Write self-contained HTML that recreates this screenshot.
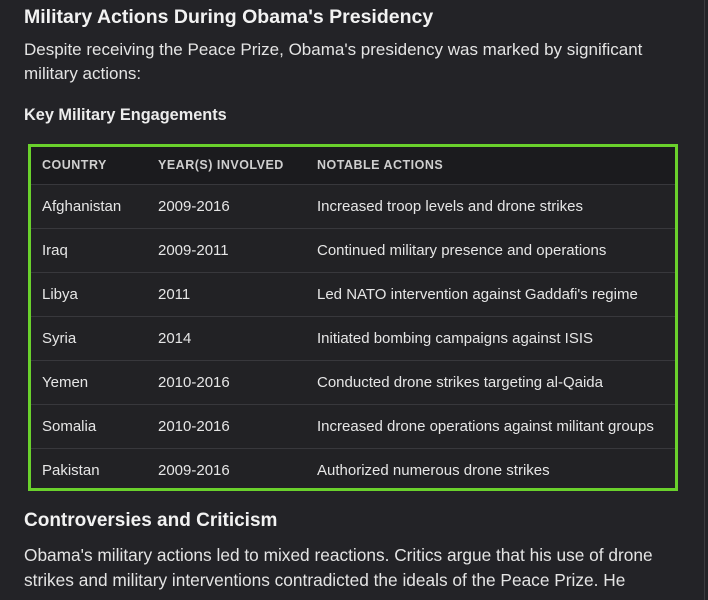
<!DOCTYPE html>
<html><head><style>
body{margin:0;width:708px;height:600px;background:#232327;color:#ececec;font-family:"Liberation Sans",sans-serif;overflow:hidden;position:relative}
.t{position:absolute;left:24px;white-space:nowrap}
h1{position:absolute;left:24px;top:6px;margin:0;font-size:19.5px;font-weight:bold;color:#f2f2f2}
.p{font-size:17px;color:#e4e4e4}
.box{position:absolute;left:28px;top:144px;width:644px;height:341px;border:3px solid #6ad12c;background:#222225}
.row{position:absolute;left:0;width:644px;height:44px;border-top:1px solid #38383c;font-size:15px;color:#e6e6e6}
.row span{position:absolute;top:13px;white-space:nowrap}
.hd{background:#1b1b1e;border-top:none;height:37px;font-size:12.5px;font-weight:bold;color:#cfcfcf;letter-spacing:0.5px}
.hd span{top:11px}
.c1{left:11px}.c2{left:127px}.c3{left:286px}
.edge{position:absolute;right:3px;top:0;width:1px;height:600px;background:#3a3a3e}
</style></head><body>
<div class="edge"></div>
<h1>Military Actions During Obama's Presidency</h1>
<div class="t p" style="top:40px">Despite receiving the Peace Prize, Obama's presidency was marked by significant</div>
<div class="t p" style="top:64px">military actions:</div>
<div class="t" style="top:106px;font-size:16.3px;font-weight:bold">Key Military Engagements</div>
<div class="box">
<div class="row hd" style="top:0"><span class="c1">COUNTRY</span><span class="c2">YEAR(S) INVOLVED</span><span class="c3">NOTABLE ACTIONS</span></div>
<div class="row" style="top:37px"><span class="c1">Afghanistan</span><span class="c2">2009-2016</span><span class="c3">Increased troop levels and drone strikes</span></div>
<div class="row" style="top:81px"><span class="c1">Iraq</span><span class="c2">2009-2011</span><span class="c3">Continued military presence and operations</span></div>
<div class="row" style="top:125px"><span class="c1">Libya</span><span class="c2">2011</span><span class="c3">Led NATO intervention against Gaddafi's regime</span></div>
<div class="row" style="top:169px"><span class="c1">Syria</span><span class="c2">2014</span><span class="c3">Initiated bombing campaigns against ISIS</span></div>
<div class="row" style="top:213px"><span class="c1">Yemen</span><span class="c2">2010-2016</span><span class="c3">Conducted drone strikes targeting al-Qaida</span></div>
<div class="row" style="top:257px"><span class="c1">Somalia</span><span class="c2">2010-2016</span><span class="c3">Increased drone operations against militant groups</span></div>
<div class="row" style="top:301px"><span class="c1">Pakistan</span><span class="c2">2009-2016</span><span class="c3">Authorized numerous drone strikes</span></div>
</div>
<div class="t" style="top:510px;font-size:19px;font-weight:bold;color:#f2f2f2">Controversies and Criticism</div>
<div class="t p" style="top:545px;font-size:17.3px">Obama's military actions led to mixed reactions. Critics argue that his use of drone</div>
<div class="t p" style="top:570px;font-size:17.3px">strikes and military interventions contradicted the ideals of the Peace Prize. He</div>
</body></html>
